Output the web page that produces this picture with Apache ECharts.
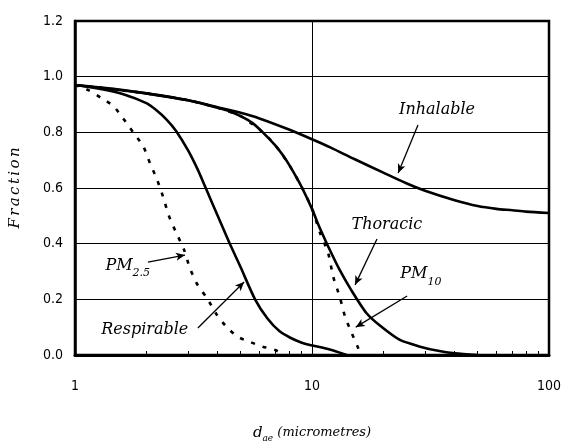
<!DOCTYPE html>
<html>
<head>
<meta charset="utf-8">
<script src="https://cdn.jsdelivr.net/npm/echarts@6/dist/echarts.min.js"></script>
<style>
  html, body { margin: 0; padding: 0; background: #fff; }
  #chart { width: 563px; height: 441px; }
</style>
</head>
<body>
<div id="chart"></div>
<script>
// particle size (micrometres) and fraction for each convention curve
var inhalableD = [1, 1.5, 2, 3, 4, 5, 6, 8, 10, 12, 15, 20, 25, 30, 40, 50, 60, 70, 80, 100];
var inhalableF = [0.97, 0.955, 0.94, 0.915, 0.89, 0.87, 0.85, 0.81, 0.775, 0.745, 0.705, 0.655, 0.617, 0.59, 0.556, 0.535, 0.525, 0.52, 0.515, 0.51];

var thoracicD = [1, 2, 3, 4, 4.5, 5, 5.6, 6.2, 7, 7.5, 8, 8.6, 9.1, 10, 10.5, 11, 11.7, 13, 14.6, 17, 19.4, 23.5, 28.6, 33.6, 40, 50];
var thoracicF = [0.97, 0.94, 0.915, 0.888, 0.875, 0.858, 0.834, 0.80, 0.753, 0.72, 0.684, 0.638, 0.599, 0.525, 0.48, 0.44, 0.39, 0.31, 0.235, 0.15, 0.105, 0.054, 0.03, 0.016, 0.006, 0];

var respirableD = [1, 1.3, 1.6, 2.0, 2.2, 2.44, 2.67, 3.0, 3.3, 3.54, 4.0, 4.5, 5.0, 5.75, 6.5, 7.3, 8.1, 9.0, 9.8, 11, 12.3, 14];
var respirableF = [0.97, 0.955, 0.937, 0.905, 0.88, 0.845, 0.805, 0.735, 0.665, 0.605, 0.50, 0.40, 0.315, 0.20, 0.13, 0.085, 0.062, 0.045, 0.036, 0.027, 0.016, 0];

var pm25D = [1, 1.15, 1.29, 1.45, 1.59, 1.76, 1.94, 2.07, 2.22, 2.35, 2.49, 2.67, 2.88, 3.06, 3.3, 3.6, 3.97, 4.37, 4.87, 5.47, 6.2, 7.0, 7.6];
var pm25F = [0.97, 0.95, 0.923, 0.895, 0.852, 0.80, 0.75, 0.69, 0.63, 0.57, 0.50, 0.44, 0.38, 0.31, 0.25, 0.205, 0.144, 0.10, 0.065, 0.047, 0.03, 0.018, 0];

var pm10D = [1, 2, 3, 4, 5, 6.2, 7, 8, 9.1, 10, 10.8, 11.7, 12.3, 13.1, 13.8, 14.7, 15.6, 16];
var pm10F = [0.97, 0.94, 0.915, 0.888, 0.858, 0.80, 0.753, 0.684, 0.599, 0.525, 0.44, 0.366, 0.28, 0.208, 0.137, 0.079, 0.029, 0];

// axis ticks
var yTicks = [0, 0.2, 0.4, 0.6, 0.8, 1.0, 1.2];
var xMinorTicks = [2, 3, 4, 5, 6, 7, 8, 9, 20, 30, 40, 50, 60, 70, 80, 90];

// annotation text anchors and arrows, in data units
var labelAt = {
    inhalable: [33.7, 0.88],
    thoracic: [20.7, 0.467],
    pm10: [28.8, 0.29],
    pm25: [1.67, 0.32],
    respirable: [1.97, 0.09]
};
var arrowFrom = {
    inhalable: [28.0, 0.826], thoracic: [18.8, 0.417], pm10: [25.2, 0.212],
    pm25: [2.03, 0.334], respirable: [3.30, 0.097]
};
var arrowTo = {
    inhalable: [23.1, 0.654], thoracic: [15.2, 0.252], pm10: [15.3, 0.10],
    pm25: [2.91, 0.359], respirable: [5.17, 0.262]
};

function pairs(d, f) {
    return d.map(function (v, i) { return [v, f[i]]; });
}

var tickFont = '"Liberation Sans Narrow", "DejaVu Sans Condensed", sans-serif';
var serifFont = '"DejaVu Serif", "Liberation Serif", serif';
var labelRich = {
    m: { fontFamily: serifFont, fontStyle: 'italic', fontSize: 16, color: '#000', lineHeight: 18, verticalAlign: 'middle' },
    s: { fontFamily: serifFont, fontStyle: 'italic', fontSize: 11, color: '#000', lineHeight: 26, verticalAlign: 'bottom' }
};

function annotation(key, text) {
    return {
        markLine: {
            silent: true,
            animation: false,
            symbol: ['none', 'arrow'],
            symbolSize: [6, 9],
            label: { show: false },
            lineStyle: { color: '#000', width: 1.3, type: 'solid' },
            emphasis: { disabled: true },
            data: [[{ coord: arrowFrom[key] }, { coord: arrowTo[key] }]]
        },
        markPoint: {
            silent: true,
            animation: false,
            symbol: 'rect',
            symbolSize: 1,
            itemStyle: { color: 'rgba(0,0,0,0)' },
            label: { show: true, position: 'inside', formatter: text, rich: labelRich },
            data: [{ coord: labelAt[key] }]
        }
    };
}

function curve(name, d, f, dashed, key, text) {
    var s = {
        name: name,
        type: 'line',
        data: pairs(d, f),
        showSymbol: false,
        smooth: 0.25,
        silent: true,
        lineStyle: { color: '#000', width: 2.6, type: dashed ? [4, 8] : 'solid' },
        itemStyle: { color: '#000' }
    };
    var a = annotation(key, text);
    s.markLine = a.markLine;
    s.markPoint = a.markPoint;
    return s;
}

// "Fraction", spaced out letter by letter
var yName = 'Fraction'.split('').map(function (ch) { return '{c|' + ch + '}'; }).join('');

var chart = echarts.init(document.getElementById('chart'), null, { renderer: 'canvas' });
var option = {
    animation: false,
    backgroundColor: '#fff',
    grid: {
        left: 75, right: 14, top: 21, bottom: 86,
        outerBoundsMode: 'none',
        show: true, borderColor: '#000', borderWidth: 2.5
    },
    xAxis: [{
        type: 'log',
        logBase: 10,
        min: 1,
        max: 100,
        name: '{d|d}{s|ae}{n| (micrometres)}',
        nameLocation: 'middle',
        nameGap: 68,
        nameTextStyle: {
            rich: {
                d: { fontFamily: serifFont, fontStyle: 'italic', fontSize: 15, color: '#000', lineHeight: 16, verticalAlign: 'middle' },
                s: { fontFamily: serifFont, fontStyle: 'italic', fontSize: 9, color: '#000', lineHeight: 20, verticalAlign: 'bottom' },
                n: { fontFamily: serifFont, fontStyle: 'italic', fontSize: 13, color: '#000', lineHeight: 16, verticalAlign: 'middle' }
            }
        },
        axisLine: { lineStyle: { color: '#000', width: 3 } },
        axisTick: { show: false },
        axisLabel: { color: '#000', fontFamily: tickFont, fontSize: 14, margin: 24 },
        splitLine: { show: true, lineStyle: { color: '#000', width: 1 } }
    }, {
        // second copy of the scale, only for the small log ticks
        type: 'log',
        logBase: 10,
        min: 1,
        max: 100,
        position: 'bottom',
        axisLine: { show: false },
        axisTick: { show: true, inside: true, length: 4, customValues: xMinorTicks, lineStyle: { color: '#000', width: 1 } },
        axisLabel: { show: false },
        splitLine: { show: false }
    }],
    yAxis: {
        type: 'value',
        min: 0,
        max: 1.2,
        interval: 0.2,
        name: yName,
        nameLocation: 'middle',
        nameGap: 52,
        nameTextStyle: {
            rich: {
                c: { fontFamily: serifFont, fontStyle: 'italic', fontSize: 15, color: '#000', padding: [0, 1.2, 0, 1.2] }
            }
        },
        axisLine: { show: true, lineStyle: { color: '#000', width: 2.5 } },
        axisTick: { show: false },
        axisLabel: {
            color: '#000', fontFamily: tickFont, fontSize: 14, margin: 12,
            customValues: yTicks,
            formatter: function (v) { return v.toFixed(1); }
        },
        splitLine: { show: true, lineStyle: { color: '#000', width: 1 } }
    },
    series: [
        curve('PM10', pm10D, pm10F, true, 'pm10', '{m|PM}{s|10}'),
        curve('PM2.5', pm25D, pm25F, true, 'pm25', '{m|PM}{s|2.5}'),
        curve('Inhalable', inhalableD, inhalableF, false, 'inhalable', '{m|Inhalable}'),
        curve('Thoracic', thoracicD, thoracicF, false, 'thoracic', '{m|Thoracic}'),
        curve('Respirable', respirableD, respirableF, false, 'respirable', '{m|Respirable}')
    ]
};
chart.setOption(option);
</script>
</body>
</html>
